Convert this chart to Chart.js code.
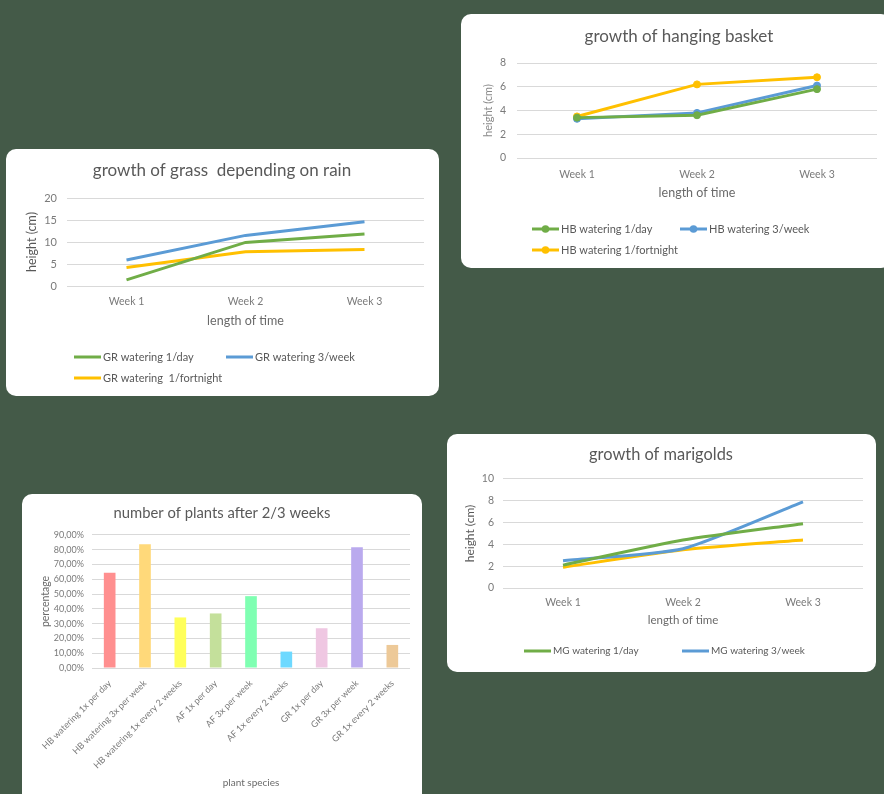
<!DOCTYPE html>
<html>
<head>
<meta charset="utf-8">
<script src="https://cdn.jsdelivr.net/npm/chart.js@4.4.1/dist/chart.umd.min.js"></script>
<style>
  html, body { margin: 0; padding: 0; }
  body { width: 884px; height: 794px; overflow: hidden; background: #445a48; position: relative; }
  .panel { position: absolute; background: #fff; border-radius: 10px; overflow: hidden; }
  .panel canvas { position: absolute; left: 0; top: 0; }
</style>
</head>
<body>
<div class="panel" style="left:461px; top:14px; width:430px; height:254px;"><canvas id="basketChart" width="423" height="254"></canvas></div>
<div class="panel" style="left:6px; top:149px; width:433px; height:247px;"><canvas id="grassChart" width="433" height="247"></canvas></div>
<div class="panel" style="left:22px; top:494px; width:400px; height:320px;"><canvas id="plantsChart" width="400" height="310"></canvas></div>
<div class="panel" style="left:447px; top:434px; width:429px; height:238px;"><canvas id="marigoldChart" width="429" height="238"></canvas></div>

<script>
// categories
const weeks = ['Week 1', 'Week 2', 'Week 3'];

// growth of hanging basket (cm)
const hbPerDay = [3.4, 3.6, 5.8];
const hbThreeWeek = [3.3, 3.8, 6.1];
const hbFortnight = [3.5, 6.2, 6.8];

// growth of grass (cm)
const grPerDay = [1.4, 9.9, 11.8];
const grThreeWeek = [5.9, 11.5, 14.6];
const grFortnight = [4.2, 7.8, 8.3];

// growth of marigolds (cm)
const mgPerDay = [2.1, 4.4, 5.9];
const mgThreeWeek = [2.5, 3.6, 7.9];
const mgFortnight = [1.9, 3.5, 4.4];

// number of plants after 2/3 weeks (%)
const plantGroups = ['HB watering 1x per day', 'HB watering 3x per week', 'HB watering 1x every 2 weeks',
  'AF 1x per day', 'AF 3x per week', 'AF 1x every 2 weeks',
  'GR 1x per day', 'GR 3x per week', 'GR 1x every 2 weeks'];
const plantPercent = [64.5, 83.7, 34.2, 36.9, 48.6, 11.1, 26.9, 81.7, 15.6];

const GREEN = '#70ad47';
const BLUE = '#5b9bd5';
const YELLOW = '#ffc000';
const barColors = ['#ff8f8f', '#ffd97a', '#ffff5a', '#c4e09b', '#7fffb2', '#6ed9ff', '#efc7e2', '#baaaee', '#edc998'];
const TICK = '#7a7a7a';

Chart.defaults.font.family = 'Lato, "Open Sans", sans-serif';
Chart.defaults.color = TICK;

// legend laid out like the Excel one: two columns, rows left aligned
const gridLegend = {
  id: 'gridLegend',
  afterDraw(chart, args, opts) {
    if (!opts || !opts.rows) return;
    const ctx = chart.ctx;
    let k = 0;
    chart.data.datasets.forEach(ds => {
      if (ds.noLegend) return;
      const x = opts.x + (k % 2) * opts.col;
      const y = opts.rows[Math.floor(k / 2)];
      ctx.save();
      ctx.strokeStyle = ds.borderColor;
      ctx.lineWidth = ds.borderWidth;
      ctx.beginPath();
      ctx.moveTo(x, y);
      ctx.lineTo(x + 27, y);
      ctx.stroke();
      if (opts.marker) {
        ctx.fillStyle = ds.borderColor;
        ctx.beginPath();
        ctx.arc(x + 13.5, y, 3.8, 0, Math.PI * 2);
        ctx.fill();
      }
      ctx.fillStyle = '#595959';
      ctx.font = opts.size + 'px Lato, "Open Sans", sans-serif';
      ctx.textBaseline = 'middle';
      ctx.fillText(ds.label, x + 29, y);
      ctx.restore();
      k++;
    });
  }
};

function lineDataset(label, data, color, o) {
  return Object.assign({
    label: label,
    data: data,
    borderColor: color,
    backgroundColor: color,
    borderWidth: 3,
    pointRadius: 0,
    pointBorderWidth: 1,
    tension: 0
  }, o || {});
}

function lineChart(id, o) {
  return new Chart(document.getElementById(id), {
    type: 'line',
    data: { labels: weeks, datasets: o.datasets },
    options: {
      responsive: false,
      animation: false,
      layout: { padding: o.pad },
      plugins: {
        legend: { display: false },
        tooltip: { enabled: false },
        title: {
          display: true,
          text: o.title,
          color: '#595959',
          font: { size: o.titleSize, weight: 'normal' },
          padding: o.titlePad
        },
        gridLegend: o.legend
      },
      scales: {
        x: {
          offset: true,
          grid: { display: false, drawTicks: false },
          border: { display: false },
          ticks: { color: TICK, padding: o.xTickPad, font: { size: 10.5 } },
          title: {
            display: true, text: 'length of time', color: '#6a6a6a',
            font: { size: o.xTitleSize }, padding: { top: 0, bottom: o.xTitleBottom }
          },
          afterFit: s => { s.height = o.xHeight; }
        },
        y: {
          min: 0,
          max: o.yMax,
          ticks: { stepSize: o.yStep, color: TICK, padding: o.yTickPad, font: { size: o.yTickSize } },
          grid: { color: '#d9d9d9', drawTicks: false },
          border: { display: false },
          title: {
            display: true, text: 'height (cm)', color: o.yTitleColor || '#595959',
            font: { size: o.yTitleSize }, padding: { top: o.yTitleTop, bottom: 0 }
          },
          afterFit: s => { s.width = o.yWidth; }
        }
      }
    },
    plugins: [gridLegend]
  });
}

lineChart('basketChart', {
  title: 'growth of hanging basket',
  titleSize: 17, titlePad: { top: 12.8, bottom: 15.8 },
  pad: { left: 20, right: 7, top: 0, bottom: 66 },
  yMax: 8, yStep: 2, yWidth: 36, yTickPad: 11, yTickSize: 10.5, yTitleSize: 11, yTitleTop: 0.4, yTitleColor: '#8a8a8a',
  xHeight: 44, xTickPad: 10, xTitleSize: 12.5, xTitleBottom: 1.5,
  legend: { x: 71, col: 148, rows: [215, 236], marker: true, size: 11 },
  datasets: [
    lineDataset('HB watering 1/day', hbPerDay, GREEN, { pointRadius: 3.5 }),
    lineDataset('HB watering 3/week', hbThreeWeek, BLUE, { pointRadius: 3.5 }),
    lineDataset('HB watering 1/fortnight', hbFortnight, YELLOW, { pointRadius: 3.5 })
  ]
});

lineChart('grassChart', {
  title: 'growth of grass  depending on rain',
  titleSize: 17, titlePad: { top: 11.8, bottom: 16.8 },
  pad: { left: 14, right: 15, top: 0, bottom: 66 },
  yMax: 20, yStep: 5, yWidth: 47, yTickPad: 10, yTickSize: 11, yTitleSize: 12.5, yTitleTop: 4.5,
  xHeight: 44, xTickPad: 9, xTitleSize: 12.5, xTitleBottom: 1.8,
  legend: { x: 68, col: 152, rows: [208, 229], marker: false, size: 11 },
  datasets: [
    lineDataset('GR watering 1/day', grPerDay, GREEN),
    lineDataset('GR watering 3/week', grThreeWeek, BLUE),
    lineDataset('GR watering  1/fortnight', grFortnight, YELLOW)
  ]
});

lineChart('marigoldChart', {
  title: 'growth of marigolds',
  titleSize: 16.4, titlePad: { top: 11.2, bottom: 14.1 },
  pad: { left: 12, right: 13, top: 0, bottom: 44 },
  yMax: 10, yStep: 2, yWidth: 44, yTickPad: 9, yTickSize: 10.5, yTitleSize: 12, yTitleTop: 3.8,
  xHeight: 40, xTickPad: 8, xTitleSize: 11.5, xTitleBottom: 0.4,
  legend: { x: 77, col: 158, rows: [217], marker: false, size: 10 },
  datasets: [
    lineDataset('MG watering 1/day', mgPerDay, GREEN, { tension: 0.2 }),
    lineDataset('MG watering 3/week', mgThreeWeek, BLUE, { tension: 0.2 }),
    lineDataset('MG watering 1/fortnight', mgFortnight, YELLOW, { tension: 0.2, noLegend: true })
  ]
});

new Chart(document.getElementById('plantsChart'), {
  type: 'bar',
  data: {
    labels: plantGroups,
    datasets: [{
      label: 'percentage',
      data: plantPercent,
      backgroundColor: barColors,
      barPercentage: 0.33,
      categoryPercentage: 1
    }]
  },
  options: {
    responsive: false,
    animation: false,
    layout: { padding: { left: 12, right: 12, top: 0, bottom: 12 } },
    plugins: {
      legend: { display: false },
      tooltip: { enabled: false },
      title: {
        display: true, text: 'number of plants after 2/3 weeks', color: '#595959',
        font: { size: 14.8, weight: 'normal' }, padding: { top: 10.1, bottom: 13.1 }
      }
    },
    scales: {
      x: {
        grid: { display: false, drawTicks: false },
        border: { display: false },
        ticks: { color: TICK, padding: 10, font: { size: 9 }, minRotation: 45, maxRotation: 45, autoSkip: false },
        title: { display: true, text: 'plant species', color: '#6a6a6a', font: { size: 10 }, padding: { top: 0, bottom: 3 } },
        afterFit: s => { s.height = 124; }
      },
      y: {
        min: 0,
        max: 90,
        ticks: {
          stepSize: 10, color: TICK, padding: 8, font: { size: 9 },
          callback: v => v.toFixed(2).replace('.', ',') + '%'
        },
        grid: { color: '#d9d9d9', drawTicks: false },
        border: { display: false },
        title: { display: true, text: 'percentage', color: '#6a6a6a', font: { size: 10.5 }, padding: { top: 5, bottom: 0 } },
        afterFit: s => { s.width = 58; }
      }
    }
  }
});
</script>
</body>
</html>
